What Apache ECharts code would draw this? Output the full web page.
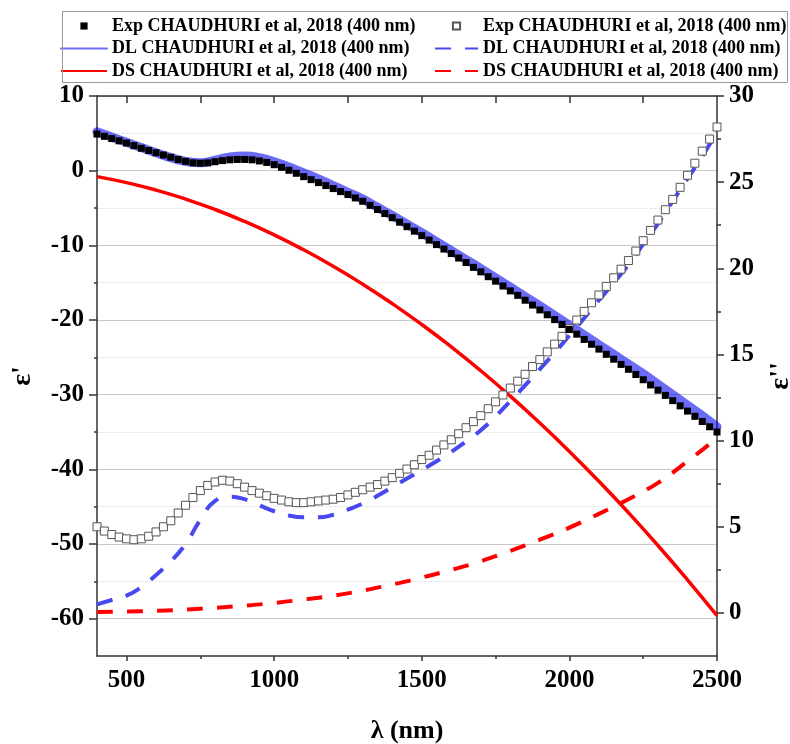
<!DOCTYPE html>
<html><head><meta charset="utf-8">
<script src="https://cdn.jsdelivr.net/npm/echarts@6/dist/echarts.min.js"></script>
<style>html,body{margin:0;padding:0;background:#fff}#c{width:790px;height:744px}</style>
</head><body><div id="c"></div>
<script>
// ---- data ----
const xExp = [400,425,450,475,500,525,550,575,600,625,650,675,700,725,750,775,800,825,850,875,900,925,950,975,1000,1025,1050,1075,1100,1125,1150,1175,1200,1225,1250,1275,1300,1325,1350,1375,1400,1425,1450,1475,1500,1525,1550,1575,1600,1625,1650,1675,1700,1725,1750,1775,1800,1825,1850,1875,1900,1925,1950,1975,2000,2025,2050,2075,2100,2125,2150,2175,2200,2225,2250,2275,2300,2325,2350,2375,2400,2425,2450,2475,2500];
const expEpsReal = [4.9,4.6,4.3,4.0,3.7,3.35,3.0,2.7,2.4,2.1,1.8,1.5,1.25,1.05,1.0,1.05,1.2,1.35,1.45,1.5,1.5,1.45,1.3,1.1,0.8,0.45,0.05,-0.35,-0.8,-1.2,-1.6,-2.0,-2.4,-2.8,-3.2,-3.65,-4.1,-4.65,-5.2,-5.75,-6.3,-6.9,-7.5,-8.1,-8.7,-9.3,-9.9,-10.5,-11.1,-11.7,-12.3,-12.95,-13.55,-14.2,-14.8,-15.45,-16.1,-16.7,-17.35,-18.0,-18.65,-19.3,-19.95,-20.6,-21.25,-21.9,-22.6,-23.25,-23.9,-24.6,-25.25,-25.95,-26.6,-27.3,-28.0,-28.7,-29.4,-30.1,-30.8,-31.5,-32.2,-32.9,-33.6,-34.3,-35.0];
const expEpsImag = [5.0,4.75,4.55,4.4,4.3,4.25,4.3,4.45,4.7,5.0,5.35,5.8,6.25,6.7,7.1,7.4,7.6,7.7,7.65,7.5,7.3,7.1,6.95,6.8,6.65,6.55,6.45,6.4,6.4,6.45,6.5,6.55,6.6,6.7,6.85,7.0,7.15,7.3,7.45,7.65,7.85,8.1,8.35,8.6,8.9,9.15,9.45,9.75,10.05,10.4,10.75,11.1,11.45,11.85,12.25,12.65,13.05,13.45,13.85,14.3,14.7,15.15,15.6,16.05,16.5,17.0,17.5,18.0,18.45,18.95,19.45,19.95,20.45,21.0,21.6,22.2,22.8,23.4,24.0,24.7,25.4,26.1,26.8,27.5,28.2];

const xDL = [400,450,500,550,600,650,700,750,800,850,900,950,1000,1050,1100,1150,1200,1250,1300,1350,1400,1450,1500,1550,1600,1650,1700,1750,1800,1850,1900,1950,2000,2050,2100,2150,2200,2250,2300,2350,2400,2450,2500];
const dlEpsReal = [5.2,4.5,3.8,3.1,2.4,1.75,1.25,1.05,1.4,1.85,1.95,1.75,1.2,0.5,-0.3,-1.1,-2.0,-2.9,-3.8,-4.9,-6.0,-7.15,-8.3,-9.5,-10.7,-11.9,-13.1,-14.35,-15.6,-16.85,-18.1,-19.4,-20.7,-22.0,-23.3,-24.6,-25.9,-27.2,-28.6,-30.0,-31.4,-32.8,-34.3];
const dlEpsImag = [0.5,0.75,1.0,1.5,2.2,3.0,4.0,5.4,6.5,6.75,6.6,6.25,5.9,5.65,5.55,5.55,5.7,6.0,6.35,6.8,7.3,7.8,8.3,8.8,9.35,9.95,10.6,11.4,12.3,13.2,14.15,15.1,16.1,17.1,18.15,19.15,20.2,21.4,22.6,23.9,25.2,26.5,27.9];

const xDS = [400,500,600,700,800,900,1000,1100,1200,1300,1400,1500,1600,1700,1800,1900,2000,2100,2200,2300,2400,2500];
const dsEpsReal = [-0.8,-1.6,-2.6,-3.8,-5.2,-6.8,-8.6,-10.6,-12.8,-15.2,-17.8,-20.6,-23.6,-26.8,-30.2,-33.8,-37.6,-41.6,-45.8,-50.2,-54.8,-59.6];
const dsEpsImag = [0.05,0.08,0.12,0.2,0.3,0.42,0.58,0.78,1.0,1.3,1.65,2.05,2.5,3.0,3.6,4.25,4.95,5.75,6.6,7.55,8.8,10.15];

const xMajorTicks = [500,1000,1500,2000,2500];
const xMinorTicks = [750,1250,1750,2250];
const xTopTicks = [500,750,1000,1250,1500,1750,2000,2250];
const yLeftMajor = [-60,-50,-40,-30,-20,-10,0,10];
const yLeftMinor = [-55,-45,-35,-25,-15,-5,5];
const yRightMajor = [0,5,10,15,20,25,30];
const yRightMinor = [2.5,7.5,12.5,17.5,22.5,27.5];

const legendText = {
  exp1: 'Exp CHAUDHURI et al, 2018 (400 nm)',
  exp2: 'Exp CHAUDHURI et al, 2018 (400 nm)',
  dl1: 'DL CHAUDHURI et al, 2018 (400 nm)',
  dl2: 'DL CHAUDHURI et al, 2018 (400 nm)',
  ds1: 'DS CHAUDHURI et al, 2018 (400 nm)',
  ds2: 'DS CHAUDHURI et al, 2018 (400 nm)'
};

// ---- chart ----
const FF = "'Times New Roman','Liberation Serif',serif";
const zip = (xs, ys) => xs.map((x, i) => [x, ys[i]]);
const axisCol = '#333';
const plain = v => String(v);
const labelStyle = {fontFamily: FF, fontWeight: 'bold', fontSize: 25, color: '#000', formatter: plain};
const thickBlue = 'rgba(0,0,238,0.58)';

const legendCommon = {
  orient: 'vertical', top: 16, padding: 0, itemHeight: 9, itemGap: 2.5,
  selectedMode: false,
  formatter: n => legendText[n],
  textStyle: {fontFamily: FF, fontWeight: 'bold', fontSize: 18, color: '#000', lineHeight: 20}
};
const noSym = n => ({name: n, itemStyle: {opacity: 0}});

const chart = echarts.init(document.getElementById('c'), null, {renderer: 'canvas'});
chart.setOption({
  animation: false,
  backgroundColor: '#fff',
  grid: {left: 97, right: 73, top: 96, bottom: 88, containLabel: false, outerBoundsMode: 'none'},
  graphic: [{type: 'rect', shape: {x: 62.5, y: 11.5, width: 725, height: 71}, style: {fill: 'none', stroke: '#999', lineWidth: 1}, z: 100}],
  legend: [
    Object.assign({}, legendCommon, {left: 60, itemWidth: 46, data: ['exp1', noSym('dl1'), noSym('ds1')]}),
    Object.assign({}, legendCommon, {left: 434, itemWidth: 43, data: ['exp2', noSym('dl2'), noSym('ds2')]})
  ],
  xAxis: [
    {type: 'value', position: 'bottom', min: 400, max: 2500, interval: 100,
     axisLine: {onZero: false, lineStyle: {color: axisCol, width: 1.5}},
     axisTick: {show: true, inside: false, length: 5, customValues: xMajorTicks, lineStyle: {color: axisCol, width: 1.5}},
     axisLabel: Object.assign({customValues: xMajorTicks, margin: 12}, labelStyle),
     splitLine: {show: false},
     name: 'λ (nm)', nameLocation: 'middle', nameGap: 62,
     nameTextStyle: {fontFamily: FF, fontWeight: 'bold', fontSize: 26, color: '#000'}},
    {type: 'value', position: 'top', min: 400, max: 2500, interval: 100,
     axisLine: {onZero: false, lineStyle: {color: axisCol, width: 1.5}},
     axisTick: {show: true, inside: true, length: 7, customValues: xTopTicks, lineStyle: {color: axisCol, width: 1.5}},
     axisLabel: {show: false}, splitLine: {show: false}},
    {type: 'value', position: 'bottom', min: 400, max: 2500, interval: 100,
     axisLine: {show: false, onZero: false},
     axisTick: {show: true, inside: false, length: 3, customValues: xMinorTicks, lineStyle: {color: axisCol, width: 1.5}},
     axisLabel: {show: false}, splitLine: {show: false}}
  ],
  yAxis: [
    {type: 'value', position: 'left', min: -65, max: 10, interval: 5,
     axisLine: {show: true, onZero: false, lineStyle: {color: axisCol, width: 1.5}},
     axisTick: {show: true, inside: false, length: 8, customValues: yLeftMajor, lineStyle: {color: axisCol, width: 1.5}},
     axisLabel: Object.assign({customValues: yLeftMajor, margin: 13}, labelStyle),
     splitLine: {show: true, lineStyle: {color: '#c8c8c8', width: 1}},
     name: "ε'", nameLocation: 'middle', nameRotate: 90, nameGap: 60,
     nameTextStyle: {fontFamily: FF, fontWeight: 'bold', fontSize: 28, color: '#000'}},
    {type: 'value', position: 'right', min: -2.5, max: 30, interval: 2.5,
     axisLine: {show: true, onZero: false, lineStyle: {color: axisCol, width: 1.5}},
     axisTick: {show: true, inside: false, length: 7, customValues: yRightMajor, lineStyle: {color: axisCol, width: 1.5}},
     axisLabel: Object.assign({customValues: yRightMajor, margin: 12}, labelStyle),
     splitLine: {show: false},
     name: "ε''", nameLocation: 'middle', nameRotate: 90, nameGap: 50,
     nameTextStyle: {fontFamily: FF, fontWeight: 'bold', fontSize: 28, color: '#000'}},
    {type: 'value', position: 'left', min: -65, max: 10, interval: 5,
     axisLine: {show: false, onZero: false},
     axisTick: {show: true, inside: false, length: 3, customValues: yLeftMinor, lineStyle: {color: axisCol, width: 1.5}},
     axisLabel: {show: false},
     splitLine: {show: true, lineStyle: {color: '#dcdcdc', width: 1, type: 'dotted'}}},
    {type: 'value', position: 'right', min: -2.5, max: 30, interval: 2.5,
     axisLine: {show: false, onZero: false},
     axisTick: {show: true, inside: false, length: 4, customValues: yRightMinor, lineStyle: {color: axisCol, width: 1.5}},
     axisLabel: {show: false}, splitLine: {show: false}}
  ],
  series: [
    {name: 'ds1', type: 'line', xAxisIndex: 0, yAxisIndex: 0, smooth: true, symbol: 'none',
     data: zip(xDS, dsEpsReal), itemStyle: {color: '#ff0000'},
     lineStyle: {color: '#ff0000', width: 3.5}},
    {name: 'ds2', type: 'line', xAxisIndex: 0, yAxisIndex: 1, smooth: true, symbol: 'none',
     data: zip(xDS, dsEpsImag), itemStyle: {color: '#ff0000'},
     lineStyle: {color: '#ff0000', width: 4, type: [16, 14]}},
    {name: 'dl2', type: 'line', xAxisIndex: 0, yAxisIndex: 1, smooth: true, symbol: 'none',
     data: zip(xDL, dlEpsImag), itemStyle: {color: '#4848f0'},
     lineStyle: {color: '#4848f0', width: 4, type: [16, 14]}},
    {name: 'exp2', type: 'line', xAxisIndex: 0, yAxisIndex: 1, symbol: 'rect', symbolSize: 8, showAllSymbol: true,
     data: zip(xExp, expEpsImag),
     itemStyle: {color: '#ffffff', borderColor: '#555', borderWidth: 1},
     lineStyle: {opacity: 0}},
    {name: 'exp1', type: 'line', xAxisIndex: 0, yAxisIndex: 0, symbol: 'rect', symbolSize: 7, showAllSymbol: true,
     data: zip(xExp, expEpsReal),
     itemStyle: {color: '#000000'},
     lineStyle: {opacity: 0}},
    {name: 'dl1', type: 'line', xAxisIndex: 0, yAxisIndex: 0, smooth: true, symbol: 'none',
     data: zip(xDL, dlEpsReal), itemStyle: {color: thickBlue},
     lineStyle: {color: thickBlue, width: 9, cap: 'round'}}
  ]
});
</script></body></html>
